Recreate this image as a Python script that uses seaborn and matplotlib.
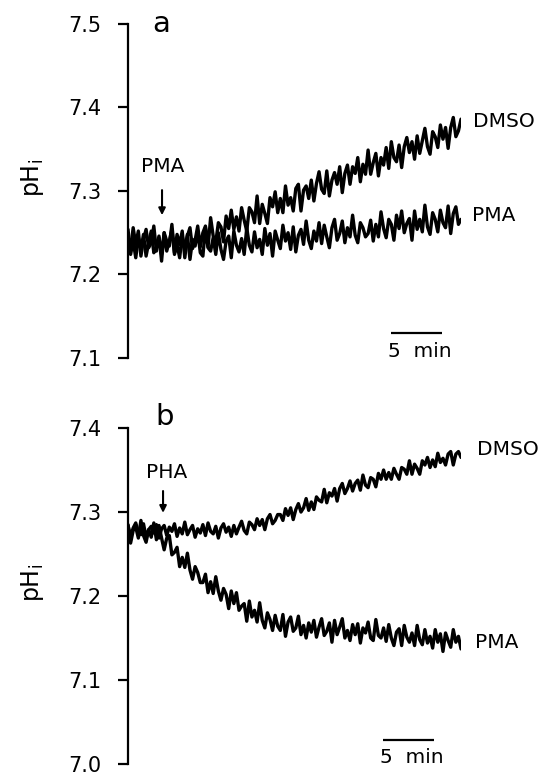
import numpy as np
import matplotlib
matplotlib.use('Agg')
import matplotlib.pyplot as plt
import seaborn as sns

# pHi recordings, one sample about every 0.25 min
sample_min = 0.2527

# panel a
a_dmso = [7.246, 7.230, 7.256, 7.236, 7.252, 7.222, 7.242, 7.254, 7.232, 7.238,
          7.258, 7.228, 7.244, 7.224, 7.250, 7.240, 7.234, 7.260, 7.226, 7.248,
          7.236, 7.252, 7.220, 7.246, 7.256, 7.231, 7.241, 7.258, 7.233, 7.250,
          7.258, 7.233, 7.268, 7.246, 7.239, 7.262, 7.257, 7.239, 7.270, 7.255,
          7.277, 7.254, 7.269, 7.252, 7.280, 7.265, 7.252, 7.280, 7.275, 7.262,
          7.294, 7.261, 7.284, 7.273, 7.261, 7.292, 7.281, 7.299, 7.274, 7.291,
          7.274, 7.306, 7.283, 7.292, 7.276, 7.303, 7.308, 7.276, 7.301, 7.306,
          7.291, 7.313, 7.288, 7.309, 7.323, 7.302, 7.297, 7.324, 7.294, 7.313,
          7.322, 7.308, 7.329, 7.298, 7.321, 7.331, 7.308, 7.329, 7.321, 7.340,
          7.311, 7.332, 7.320, 7.349, 7.320, 7.334, 7.345, 7.318, 7.340, 7.331,
          7.352, 7.327, 7.359, 7.340, 7.335, 7.355, 7.328, 7.353, 7.364, 7.346,
          7.359, 7.338, 7.366, 7.345, 7.360, 7.375, 7.353, 7.344, 7.371, 7.365,
          7.352, 7.379, 7.362, 7.376, 7.351, 7.376, 7.388, 7.365, 7.372, 7.386]
a_pma = [7.254, 7.224, 7.240, 7.220, 7.244, 7.230, 7.248, 7.222, 7.238, 7.252,
         7.226, 7.232, 7.246, 7.216, 7.250, 7.228, 7.240, 7.254, 7.224, 7.236,
         7.220, 7.246, 7.230, 7.248, 7.218, 7.242, 7.234, 7.252, 7.226, 7.222,
         7.256, 7.232, 7.228, 7.244, 7.224, 7.250, 7.230, 7.218, 7.240, 7.246,
         7.220, 7.252, 7.235, 7.227, 7.243, 7.224, 7.256, 7.235, 7.227, 7.251,
         7.232, 7.242, 7.224, 7.255, 7.235, 7.249, 7.222, 7.252, 7.241, 7.231,
         7.259, 7.240, 7.250, 7.230, 7.257, 7.227, 7.247, 7.254, 7.236, 7.264,
         7.241, 7.231, 7.252, 7.240, 7.262, 7.237, 7.259, 7.245, 7.232, 7.256,
         7.266, 7.241, 7.249, 7.264, 7.238, 7.256, 7.245, 7.271, 7.247, 7.238,
         7.262, 7.256, 7.245, 7.249, 7.265, 7.240, 7.260, 7.245, 7.275, 7.255,
         7.244, 7.266, 7.260, 7.241, 7.271, 7.255, 7.276, 7.250, 7.261, 7.267,
         7.241, 7.276, 7.254, 7.266, 7.251, 7.283, 7.257, 7.248, 7.274, 7.266,
         7.251, 7.277, 7.262, 7.256, 7.282, 7.249, 7.273, 7.281, 7.260, 7.266]

# panel b
b_dmso = [7.284, 7.271, 7.281, 7.287, 7.276, 7.273, 7.286, 7.270, 7.279, 7.283,
          7.275, 7.285, 7.269, 7.280, 7.284, 7.272, 7.282, 7.277, 7.286, 7.271,
          7.281, 7.274, 7.288, 7.273, 7.279, 7.284, 7.270, 7.280, 7.275, 7.285,
          7.272, 7.287, 7.277, 7.274, 7.283, 7.269, 7.281, 7.286, 7.276, 7.282,
          7.271, 7.284, 7.274, 7.282, 7.289, 7.278, 7.274, 7.288, 7.285, 7.279,
          7.292, 7.284, 7.291, 7.279, 7.292, 7.297, 7.286, 7.290, 7.297, 7.297,
          7.290, 7.304, 7.296, 7.305, 7.291, 7.303, 7.310, 7.300, 7.305, 7.316,
          7.302, 7.312, 7.303, 7.318, 7.314, 7.312, 7.327, 7.311, 7.323, 7.319,
          7.328, 7.313, 7.328, 7.334, 7.322, 7.328, 7.337, 7.325, 7.334, 7.338,
          7.326, 7.344, 7.332, 7.329, 7.341, 7.339, 7.330, 7.346, 7.339, 7.350,
          7.339, 7.347, 7.339, 7.352, 7.345, 7.339, 7.353, 7.351, 7.345, 7.361,
          7.345, 7.357, 7.352, 7.345, 7.361, 7.356, 7.365, 7.353, 7.362, 7.354,
          7.370, 7.359, 7.364, 7.356, 7.369, 7.372, 7.356, 7.369, 7.372, 7.365]
b_pma = [7.285, 7.263, 7.278, 7.282, 7.269, 7.290, 7.272, 7.264, 7.279, 7.270,
         7.287, 7.267, 7.284, 7.269, 7.255, 7.269, 7.272, 7.249, 7.252, 7.258,
         7.235, 7.246, 7.234, 7.251, 7.231, 7.220, 7.235, 7.228, 7.216, 7.216,
         7.226, 7.204, 7.217, 7.203, 7.223, 7.206, 7.195, 7.209, 7.202, 7.185,
         7.206, 7.191, 7.204, 7.183, 7.188, 7.191, 7.170, 7.194, 7.175, 7.183,
         7.169, 7.192, 7.171, 7.162, 7.180, 7.172, 7.159, 7.177, 7.164, 7.159,
         7.178, 7.152, 7.169, 7.175, 7.158, 7.162, 7.176, 7.154, 7.165, 7.150,
         7.168, 7.157, 7.171, 7.151, 7.163, 7.173, 7.153, 7.158, 7.168, 7.145,
         7.171, 7.154, 7.163, 7.173, 7.150, 7.159, 7.147, 7.166, 7.154, 7.167,
         7.144, 7.162, 7.156, 7.169, 7.150, 7.147, 7.172, 7.153, 7.150, 7.162,
         7.146, 7.166, 7.150, 7.141, 7.157, 7.161, 7.141, 7.165, 7.151, 7.145,
         7.156, 7.141, 7.165, 7.148, 7.142, 7.160, 7.144, 7.152, 7.138, 7.160,
         7.145, 7.155, 7.134, 7.156, 7.147, 7.139, 7.160, 7.145, 7.152, 7.137]

a_ticks = [7.1, 7.2, 7.3, 7.4, 7.5]
b_ticks = [7.0, 7.1, 7.2, 7.3, 7.4]

sns.set_theme(style='ticks')
plt.rcParams['font.family'] = ['DejaVu Sans']
plt.rcParams['text.color'] = 'black'
plt.rcParams['axes.labelcolor'] = 'black'

TEXT_SIZE = 14.5


def style_panel(ax, yticks, t_end):
    ax.set_xlim(0, t_end)
    ax.set_ylim(yticks[0], yticks[-1])
    ax.set_yticks(yticks)
    ax.set_yticklabels([f'{v:.1f}' for v in yticks])
    ax.set_xticks([])
    sns.despine(ax=ax, bottom=True)
    ax.spines['left'].set_linewidth(1.6)
    ax.spines['left'].set_color('black')
    ax.tick_params(axis='y', direction='out', length=7, width=1.6,
                   pad=12, labelsize=15, colors='black', left=True)
    ax.set_ylabel('pH$_\\mathregular{i}$', fontsize=17)
    ax.yaxis.set_label_coords(-0.245, 0.54)


def draw_trace(ax, t, y):
    sns.lineplot(x=t, y=y, ax=ax, color='black', linewidth=2.4,
                 estimator=None, sort=False)


fig = plt.figure(figsize=(5.52, 7.75), dpi=100)
ax_a = fig.add_axes([0.2319, 0.5381, 0.6033, 0.4310])
ax_b = fig.add_axes([0.2319, 0.0142, 0.6033, 0.4335])

t = np.arange(len(a_dmso)) * sample_min
t_end = t[-1]

# ---- panel a
draw_trace(ax_a, t, a_dmso)
draw_trace(ax_a, t, a_pma)
style_panel(ax_a, a_ticks, t_end)
ax_a.text(0.099, 0.976, 'a', transform=ax_a.transAxes, fontsize=21,
          ha='center', va='baseline')
ax_a.text(3.38, 7.323, 'PMA', fontsize=TEXT_SIZE, ha='center', va='baseline')
ax_a.annotate('', xy=(3.33, 7.271), xytext=(3.33, 7.301),
              arrowprops=dict(arrowstyle='-|>', color='black', lw=1.5,
                              mutation_scale=10, shrinkA=0, shrinkB=0))
ax_a.text(33.8, 7.383, 'DMSO', fontsize=TEXT_SIZE, ha='left', va='center')
ax_a.text(33.7, 7.271, 'PMA', fontsize=TEXT_SIZE, ha='left', va='center')
ax_a.hlines(7.130, 25.75, 30.75, color='black', linewidth=1.6)
ax_a.text(28.6, 7.119, '5  min', fontsize=TEXT_SIZE, ha='center', va='top')

# ---- panel b
draw_trace(ax_b, t, b_dmso)
draw_trace(ax_b, t, b_pma)
style_panel(ax_b, b_ticks, t_end)
ax_b.text(0.111, 1.009, 'b', transform=ax_b.transAxes, fontsize=21,
          ha='center', va='baseline')
ax_b.text(3.75, 7.3405, 'PHA', fontsize=TEXT_SIZE, ha='center', va='baseline')
ax_b.annotate('', xy=(3.43, 7.299), xytext=(3.43, 7.325),
              arrowprops=dict(arrowstyle='-|>', color='black', lw=1.5,
                              mutation_scale=10, shrinkA=0, shrinkB=0))
ax_b.text(34.2, 7.374, 'DMSO', fontsize=TEXT_SIZE, ha='left', va='center')
ax_b.text(34.0, 7.145, 'PMA', fontsize=TEXT_SIZE, ha='left', va='center')
ax_b.hlines(7.0286, 24.96, 29.96, color='black', linewidth=1.6)
ax_b.text(27.8, 7.019, '5  min', fontsize=TEXT_SIZE, ha='center', va='top')

fig.savefig('out.png', dpi=100)
